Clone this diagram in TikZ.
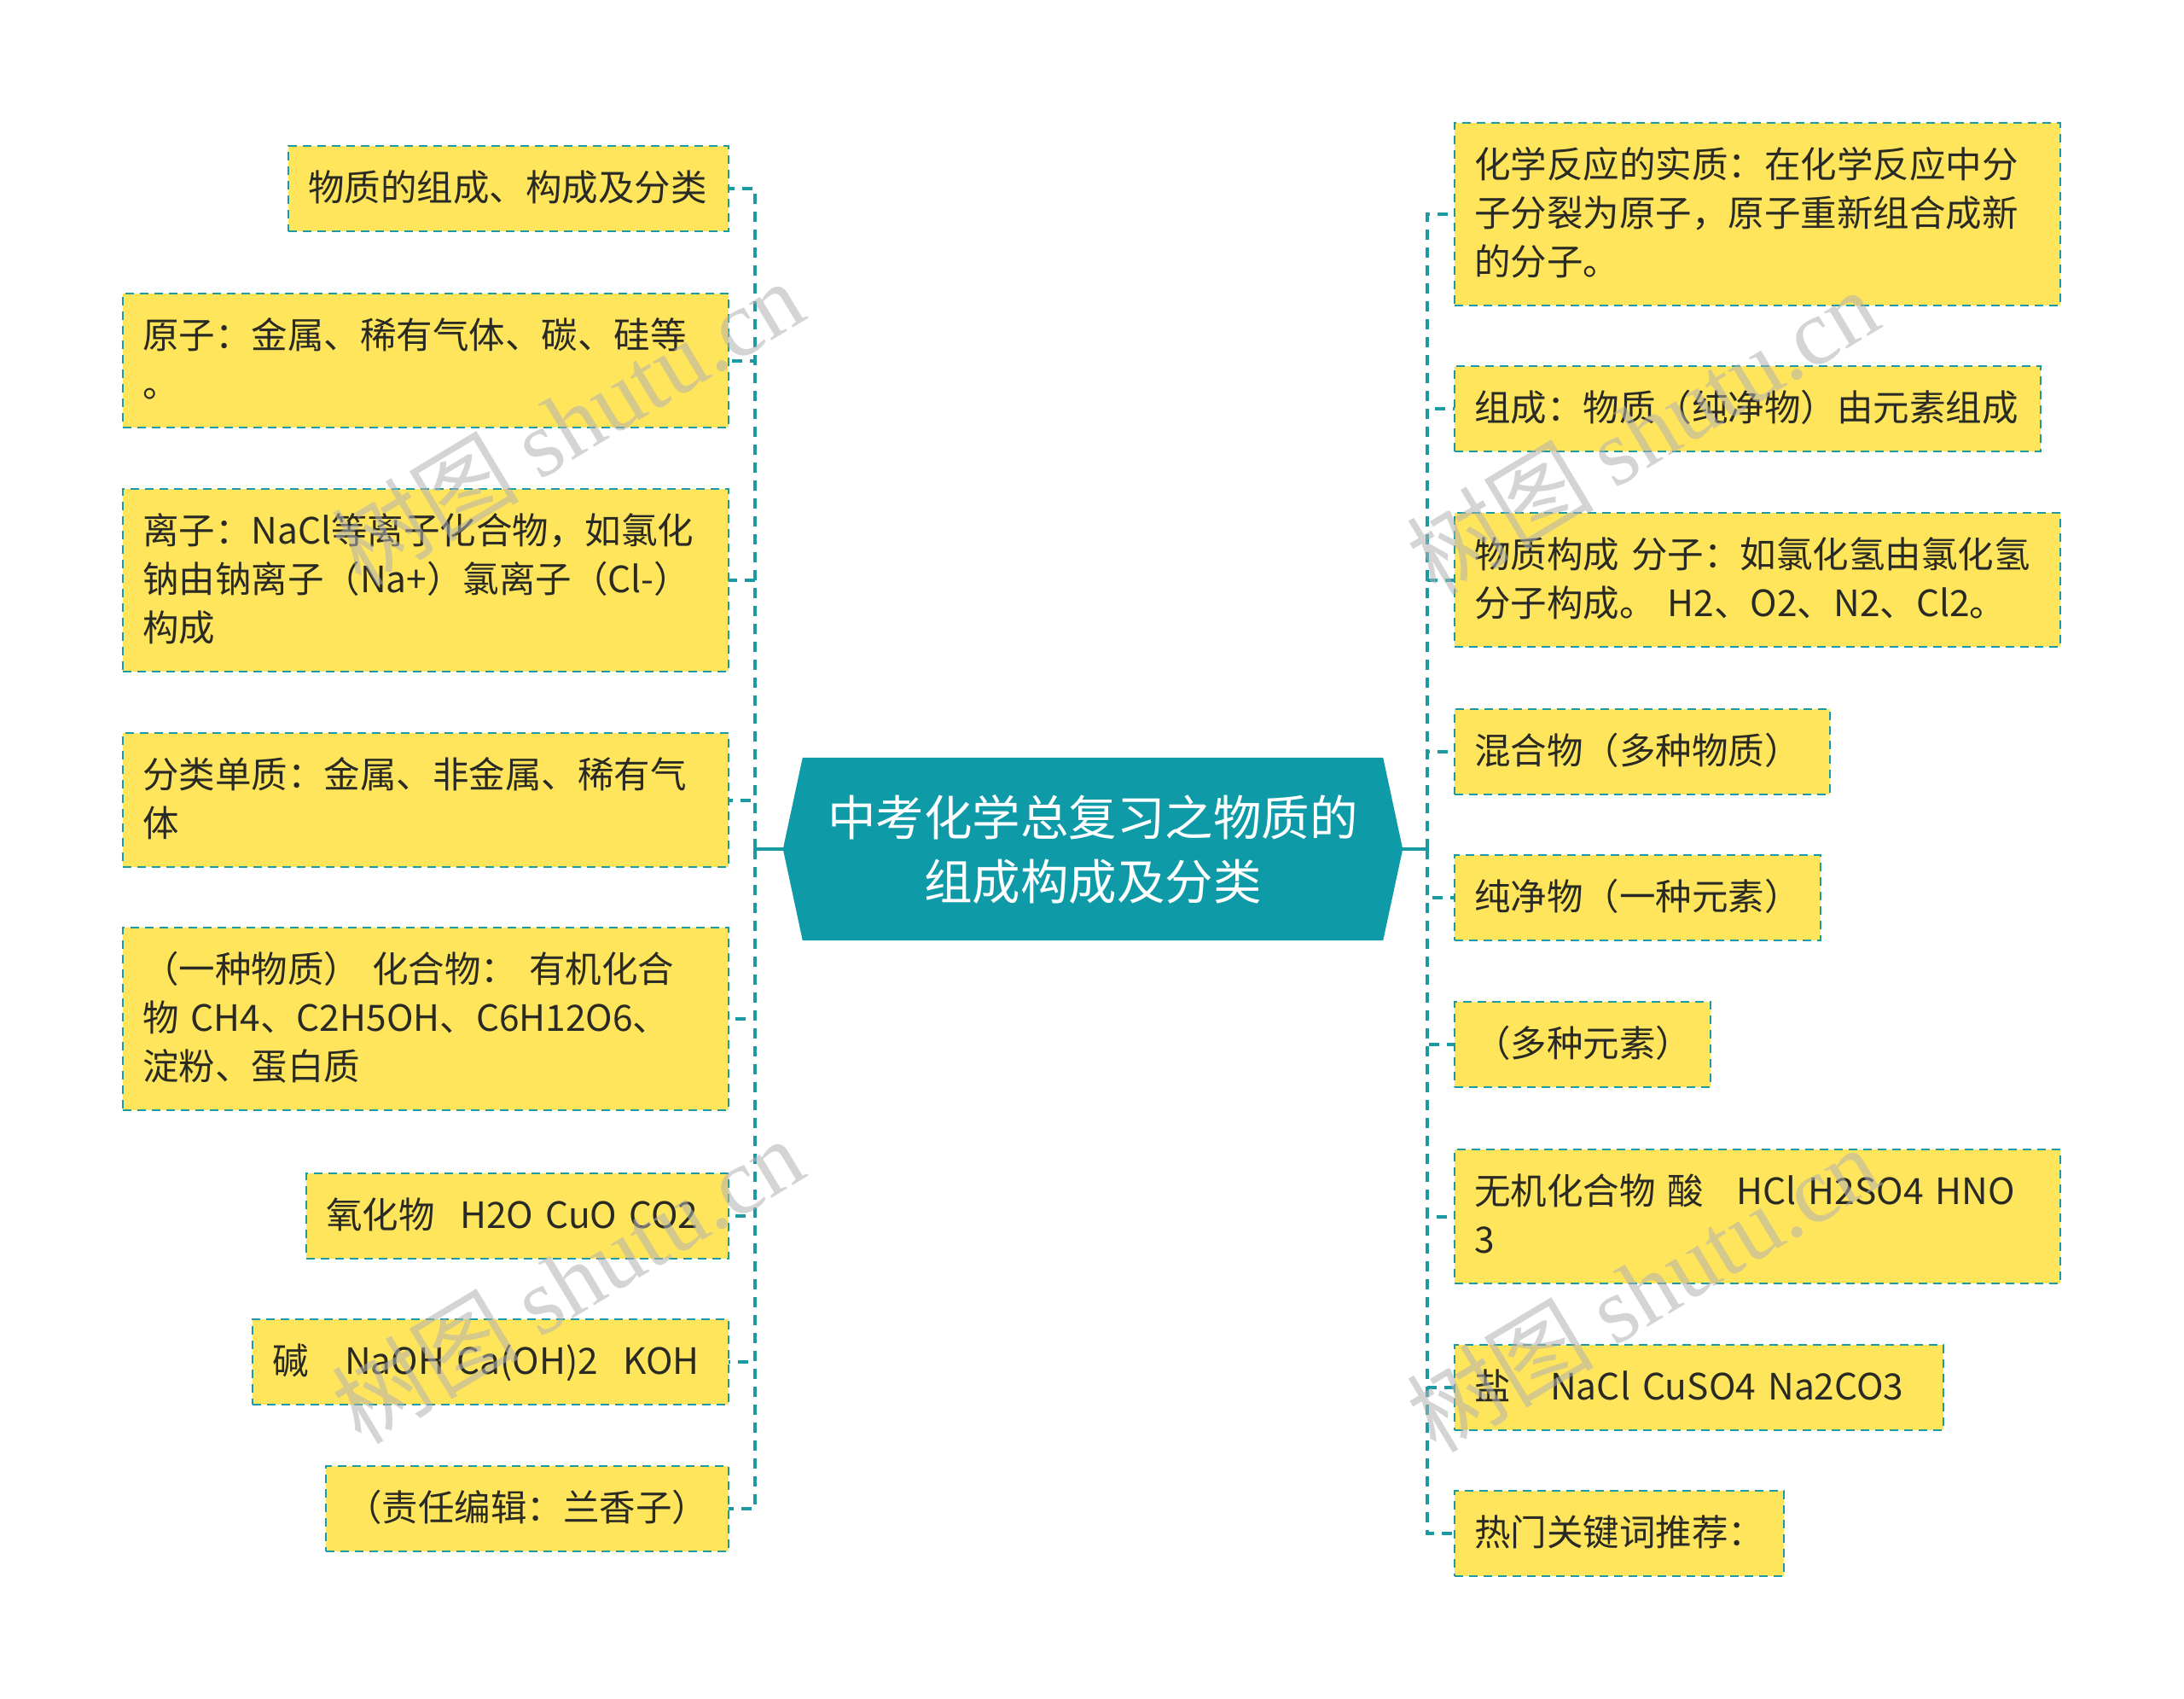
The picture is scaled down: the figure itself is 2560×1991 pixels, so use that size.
\documentclass[tikz,border=0pt]{standalone}
\usepackage{fontspec}
\setmainfont{Noto Sans CJK SC}
\newfontfamily\wmserif{Liberation Serif}
\usetikzlibrary{backgrounds}
\definecolor{cteal}{HTML}{0E9AA7}
\definecolor{lteal}{HTML}{1B9AA4}
\definecolor{cyel}{HTML}{FFE55B}
\definecolor{ctext}{HTML}{2A2A25}
\newcommand\ls{\rule[-14pt]{0pt}{57pt}}
\begin{document}
\begin{tikzpicture}[x=1pt,y=-1pt,
  box/.style={draw=lteal, fill=cyel, line width=2.8pt, dash pattern=on 10pt off 7pt,
    anchor=north west, inner xsep=23pt, inner ysep=0pt, align=left, text=ctext,
    font=\fontsize{42.5}{57}\selectfont, outer sep=0pt},
  conn/.style={draw=lteal, line width=4pt, dash pattern=on 12pt off 9pt},
  stub/.style={draw=lteal, line width=3.5pt},
  wm/.style={text=black!30, opacity=0.55, font=\fontsize{110}{120}\selectfont, rotate=31}]
\useasboundingbox (0,0) rectangle (2560,1991);

% centre
\node[font=\fontsize{56.5}{75}\selectfont, text=white, align=center,
  minimum width=726pt, minimum height=214pt, inner sep=0pt] (c) at (1281,995)
  {中考化学总复习之物质的\\组成构成及分类};
\begin{scope}[on background layer]
\fill[white] (0,0) rectangle (2560,1991);
\fill[cteal] (c.west) -- ([xshift=23pt]c.north west) -- ([xshift=-23pt]c.north east)
  -- (c.east) -- ([xshift=-23pt]c.south east) -- ([xshift=23pt]c.south west) -- cycle;
\end{scope}

\coordinate (lj) at (885,995);
\coordinate (rj) at (1673,995);

% left boxes
\node[box, minimum width=516pt, text width=470pt, minimum height=100pt] (L1) at (338,171)
  {\ls 物质的组成、构成及分类};
\node[box, minimum width=710pt, text width=664pt, minimum height=157pt] (L2) at (144,344)
  {\ls 原子：金属、稀有气体、碳、硅等\\\ls 。};
\node[box, minimum width=710pt, text width=664pt, minimum height=214pt] (L3) at (144,573)
  {\ls 离子：NaCl等离子化合物，如氯化\\\ls 钠由钠离子（Na+）氯离子（Cl-）\\\ls 构成};
\node[box, minimum width=710pt, text width=664pt, minimum height=157pt] (L4) at (144,859)
  {\ls 分类单质：金属、非金属、稀有气\\\ls 体};
\node[box, minimum width=710pt, text width=664pt, minimum height=214pt] (L5) at (144,1087)
  {\ls （一种物质）~化合物：~有机化合\\\ls 物~CH4、C2H5OH、C6H12O6、\\\ls 淀粉、蛋白质};
\node[box, minimum width=495pt, text width=449pt, minimum height=100pt] (L6) at (359,1375)
  {\ls 氧化物\hspace{0.7em}H2O~CuO~CO2};
\node[box, minimum width=558pt, text width=512pt, minimum height=100pt] (L7) at (296,1546)
  {\ls 碱\hspace{1em}NaOH~Ca(OH)2\hspace{0.7em}KOH};
\node[box, minimum width=472pt, text width=426pt, minimum height=100pt] (L8) at (382,1718)
  {\ls （责任编辑：兰香子）};

% right boxes
\node[box, minimum width=710pt, text width=664pt, minimum height=214pt] (R1) at (1705,144)
  {\ls 化学反应的实质：在化学反应中分\\\ls 子分裂为原子，原子重新组合成新\\\ls 的分子。};
\node[box, minimum width=687pt, text width=641pt, minimum height=100pt] (R2) at (1705,429)
  {\ls 组成：物质（纯净物）由元素组成};
\node[box, minimum width=710pt, text width=664pt, minimum height=157pt] (R3) at (1705,601)
  {\ls 物质构成~分子：如氯化氢由氯化氢\\\ls 分子构成。~H2、O2、N2、Cl2。};
\node[box, minimum width=440pt, text width=394pt, minimum height=100pt] (R4) at (1705,831)
  {\ls 混合物（多种物质）};
\node[box, minimum width=429pt, text width=383pt, minimum height=100pt] (R5) at (1705,1002)
  {\ls 纯净物（一种元素）};
\node[box, minimum width=300pt, text width=254pt, minimum height=100pt] (R6) at (1705,1174)
  {\ls （多种元素）};
\node[box, minimum width=710pt, text width=664pt, minimum height=157pt] (R7) at (1705,1347)
  {\ls 无机化合物~酸\hspace{0.9em}HCl~H2SO4~HNO\\\ls 3};
\node[box, minimum width=573pt, text width=527pt, minimum height=100pt] (R8) at (1705,1576)
  {\ls 盐\hspace{1.1em}NaCl~CuSO4~Na2CO3};
\node[box, minimum width=386pt, text width=340pt, minimum height=100pt] (R9) at (1705,1747)
  {\ls 热门关键词推荐：};

% connectors
\draw[stub] (c.west) -- (lj);
\draw[stub] (c.east) -- (rj);
\foreach \n in {L1,L2,L3,L4,L5,L6,L7,L8}
  \draw[conn] (lj) |- (\n.east);
\foreach \n in {R1,R2,R3,R4,R5,R6,R7,R8,R9}
  \draw[conn] (rj) |- (\n.west);

% watermarks
\node[wm] (w1) at (665,495) {树图 {\wmserif shutu.cn}};
\node[wm] (w2) at (665,1500) {树图 {\wmserif shutu.cn}};
\node[wm] (w3) at (1925,505) {树图 {\wmserif shutu.cn}};
\node[wm] (w4) at (1925,1510) {树图 {\wmserif shutu.cn}};
\end{tikzpicture}
\end{document}
